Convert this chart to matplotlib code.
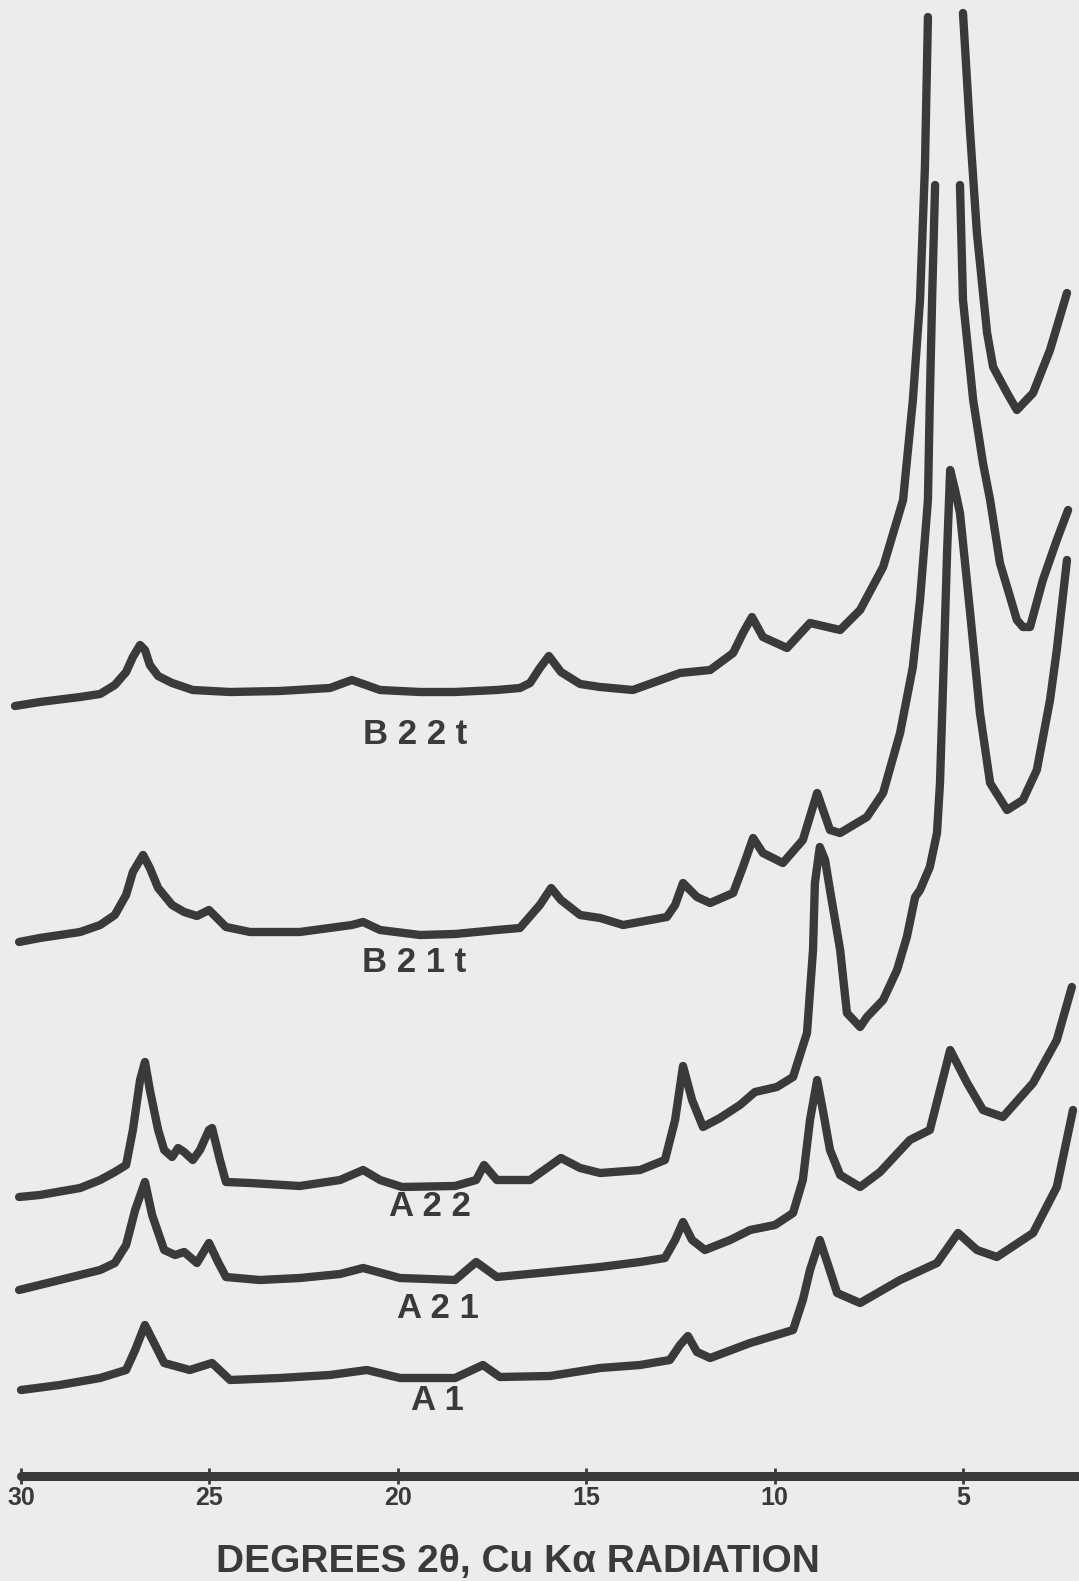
import numpy as np
import matplotlib
matplotlib.use("Agg")
import matplotlib.pyplot as plt

plt.rcParams['font.family'] = ['Liberation Sans', 'DejaVu Sans']

# 2-theta (degrees) and pen height (arbitrary units, stacked as drawn); nan = pen off scale
b22t_deg = [30.16, 29.50, 28.43, 27.90, 27.51, 27.21, 27.03, 26.84, 26.71, 26.58, 26.36, 25.99,
            25.44, 24.45, 23.13, 21.80, 21.22, 20.92, 20.47, 19.41, 18.48, 17.37, 16.76, 16.49,
            16.23, 15.99, 15.67, 15.16, 14.63, 13.76, 12.51, 11.71, 11.10, 10.84, 10.60, 10.31,
            9.67, 9.06, 8.26, 7.73, 7.12, 6.59, 6.33, 6.14, 6.01, 5.93, 5.50, 5.00, 4.81, 4.63,
            4.36, 4.20, 3.83, 3.57, 3.14, 2.69, 2.24]
b22t_val = [770, 774, 779, 782, 791, 804, 819, 831, 826, 811, 800, 793,
            786, 784, 785, 788, 796, 792, 786, 784, 784, 786, 788, 793,
            808, 820, 804, 792, 789, 786, 803, 806, 823, 843, 859, 839,
            828, 853, 846, 866, 909, 976, 1076, 1176, 1309, 1459, np.nan, 1463, 1343, 1243,
            1143, 1109, 1083, 1066, 1083, 1126, 1183]

b21t_deg = [30.05, 29.50, 28.43, 27.90, 27.51, 27.21, 27.03, 26.76, 26.58, 26.36, 25.99, 25.67,
            25.33, 25.01, 24.56, 23.92, 22.60, 21.22, 20.92, 20.47, 19.41, 18.48, 17.37, 16.76,
            16.23, 15.93, 15.67, 15.16, 14.63, 14.02, 12.86, 12.64, 12.43, 12.06, 11.71, 11.10,
            10.84, 10.57, 10.31, 9.78, 9.25, 8.87, 8.53, 8.26, 7.55, 7.12, 6.67, 6.33, 6.14,
            5.93, 5.88, 5.82, 5.74, 5.40, 5.08, 5.00, 4.73, 4.47, 4.28, 4.02, 3.75, 3.57, 3.41,
            3.22, 2.88, 2.51, 2.21]
b21t_val = [534, 538, 544, 551, 561, 581, 604, 621, 608, 588, 571, 564,
            560, 566, 549, 544, 544, 551, 554, 546, 541, 542, 546, 548,
            571, 588, 576, 561, 558, 551, 559, 571, 593, 579, 573, 583,
            609, 638, 623, 613, 636, 683, 646, 643, 659, 683, 743, 809, 876,
            976, 1076, 1176, 1291, np.nan, 1291, 1176, 1076, 1013, 976, 913, 879, 856, 849,
            849, 896, 936, 966]

a22_deg = [30.05, 29.50, 28.43, 27.90, 27.51, 27.21, 27.03, 26.84, 26.71, 26.58, 26.36, 26.20,
           25.99, 25.83, 25.67, 25.44, 25.25, 25.01, 24.93, 24.72, 24.56, 23.92, 22.60, 21.53,
           20.92, 20.47, 19.89, 18.48, 17.92, 17.71, 17.37, 16.49, 15.67, 15.16, 14.63, 13.57,
           12.91, 12.64, 12.43, 12.19, 11.90, 11.45, 10.92, 10.52, 9.94, 9.51, 9.14, 8.98,
           8.93, 8.80, 8.66, 8.53, 8.26, 8.08, 7.73, 7.55, 7.12, 6.75, 6.49, 6.27, 6.14, 5.88,
           5.69, 5.61, 5.50, 5.42, 5.34, 5.21, 5.08, 4.81, 4.55, 4.28, 3.83, 3.41, 3.04, 2.69,
           2.51, 2.24]
a22_val = [279, 281, 288, 296, 304, 311, 346, 396, 414, 386, 346, 326,
           319, 328, 324, 316, 326, 346, 348, 316, 294, 293, 290, 296,
           306, 296, 289, 290, 296, 311, 296, 296, 318, 308, 303, 306,
           316, 356, 410, 376, 349, 358, 371, 384, 389, 399, 443, 526,
           593, 629, 616, 586, 526, 463, 449, 459, 476, 506, 539, 579, 586, 609,
           643, 693, 826, 926, 1006, 986, 963, 863, 763, 693, 666, 676, 706, 776,
           826, 916]

a21_deg = [30.05, 28.97, 27.90, 27.51, 27.21, 26.97, 26.71, 26.52, 26.20, 25.91, 25.67, 25.33,
           25.01, 24.77, 24.56, 23.66, 22.60, 21.53, 20.92, 19.94, 18.48, 17.92, 17.37, 15.96,
           14.63, 13.57, 12.91, 12.64, 12.43, 12.19, 11.85, 11.18, 10.65, 9.99, 9.51, 9.25,
           9.06, 8.87, 8.72, 8.53, 8.26, 7.73, 7.20, 6.41, 5.88, 5.61, 5.34, 4.89, 4.47, 3.94,
           3.14, 2.51, 2.11]
a21_val = [186, 196, 206, 213, 231, 266, 294, 261, 226, 221, 224, 213,
           233, 214, 199, 196, 198, 202, 208, 198, 196, 214, 199, 204,
           209, 214, 218, 236, 254, 236, 226, 236, 246, 251, 263, 296,
           356, 396, 366, 326, 301, 289, 304, 336, 346, 386, 426, 393, 366, 359,
           393, 436, 489]

a1_deg = [30.00, 28.97, 27.90, 27.21, 26.97, 26.71, 26.44, 26.20, 25.52, 24.93, 24.45, 23.13,
          21.80, 20.82, 19.94, 18.48, 17.74, 17.29, 15.96, 14.63, 13.57, 12.78, 12.51, 12.30,
          12.06, 11.71, 10.65, 9.51, 9.25, 9.06, 8.80, 8.58, 8.34, 7.73, 6.67, 5.69, 5.13,
          4.63, 4.10, 3.14, 2.51, 2.08]
a1_val = [86, 91, 98, 106, 126, 151, 131, 113, 106, 113, 96, 98,
          101, 106, 98, 98, 111, 99, 100, 108, 111, 116, 131, 140,
          124, 118, 133, 146, 176, 206, 236, 211, 183, 173, 196, 213, 243,
          226, 219, 243, 289, 366]

samples = ["B22t", "B21t", "A22", "A21", "A1"]
label_deg = [19.54, 19.57, 19.15, 18.93, 18.96]
label_val = [741, 513, 269, 167, 76]
xticks = [30, 25, 20, 15, 10, 5]

ink = '#3a3a3a'
paper = '#ececec'

fig = plt.figure(figsize=(10.79, 15.81), dpi=100, facecolor=paper)
ax = fig.add_axes([0, 105 / 1581, 1, 1476 / 1581])
ax.set_facecolor(paper)

traces = [(b22t_deg, b22t_val), (b21t_deg, b21t_val), (a22_deg, a22_val),
          (a21_deg, a21_val), (a1_deg, a1_val)]
for d, v in traces:
    ax.plot(d, v, color=ink, lw=6, solid_capstyle='round', solid_joinstyle='round', clip_on=False)

for name, xd, yv in zip(samples, label_deg, label_val):
    ax.text(xd, yv, " ".join(name), ha='center', va='center', fontsize=25,
            fontweight='bold', color=ink)

ax.set_xlim(30.557, 1.921)
ax.set_ylim(0, 1476)
for s in ['left', 'right', 'top']:
    ax.spines[s].set_visible(False)
ax.spines['bottom'].set_bounds(30, 1.921)
ax.spines['bottom'].set_linewidth(6.5)
ax.spines['bottom'].set_color(ink)
ax.spines['bottom'].set_capstyle('round')
ax.set_yticks([])
ax.set_xticks(xticks)
ax.set_xticklabels([str(t) for t in xticks])
ax.tick_params(axis='x', direction='inout', length=12, width=2, color=ink, pad=1,
               labelsize=18, labelcolor=ink)
for lab in ax.get_xticklabels():
    lab.set_fontweight('bold')

fig.text(518 / 1079, 1 - 1562 / 1581, "DEGREES 2θ, Cu Kα RADIATION", ha='center', va='center',
         fontsize=28, fontweight='bold', color=ink)

fig.savefig('out.png', dpi=100, facecolor=paper)
